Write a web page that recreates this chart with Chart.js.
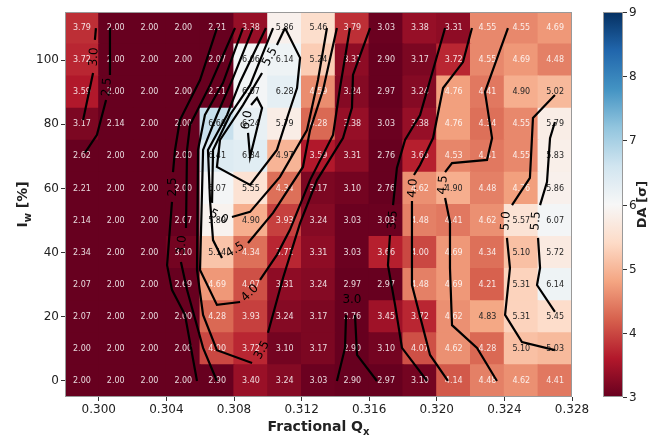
<!DOCTYPE html>
<html>
<head>
<meta charset="utf-8">
<script src="https://cdn.jsdelivr.net/npm/chart.js@4.4.0/dist/chart.umd.min.js"></script>
<style>
  body { margin: 0; background: #fff; }
  #wrap { width: 652px; height: 436px; }
</style>
</head>
<body>
<div id="wrap"><canvas id="daChart" width="652" height="436"></canvas></div>
<script>
// grid of the scan: fractional Qx (columns) and wire current Iw (rows, top first)
const qxCenters = [0.299, 0.301, 0.303, 0.305, 0.307, 0.309, 0.311, 0.313, 0.315, 0.317, 0.319, 0.321, 0.323, 0.325, 0.327];
const iwRows = [110, 100, 90, 80, 70, 60, 50, 40, 30, 20, 10, 0];

// DA in sigma, one row per Iw value
const da110 = [3.79, 2.00, 2.00, 2.00, 2.21, 3.38, 5.86, 5.46, 3.79, 3.03, 3.38, 3.31, 4.55, 4.55, 4.69];
const da100 = [3.72, 2.00, 2.00, 2.00, 2.07, 6.06, 6.14, 5.24, 3.31, 2.90, 3.17, 3.72, 4.55, 4.69, 4.48];
const da90  = [3.59, 2.00, 2.00, 2.00, 2.21, 6.07, 6.28, 4.59, 3.24, 2.97, 3.24, 4.76, 4.41, 4.90, 5.02];
const da80  = [3.17, 2.14, 2.00, 2.00, 6.69, 6.24, 5.79, 4.28, 3.38, 3.03, 3.38, 4.76, 4.34, 4.55, 5.79];
const da70  = [2.62, 2.00, 2.00, 2.00, 6.41, 6.34, 4.97, 3.59, 3.31, 2.76, 3.66, 4.53, 4.41, 4.55, 5.83];
const da60  = [2.21, 2.00, 2.00, 2.00, 6.07, 5.55, 4.34, 3.17, 3.10, 2.76, 4.62, 4.90, 4.48, 4.76, 5.86];
const da50  = [2.14, 2.00, 2.00, 2.07, 5.89, 4.90, 3.93, 3.24, 3.03, 3.03, 4.48, 4.41, 4.62, 5.57, 6.07];
const da40  = [2.34, 2.00, 2.00, 3.10, 5.14, 4.34, 3.72, 3.31, 3.03, 3.66, 4.00, 4.69, 4.34, 5.10, 5.72];
const da30  = [2.07, 2.00, 2.00, 2.69, 4.69, 4.07, 3.31, 3.24, 2.97, 2.97, 4.48, 4.69, 4.21, 5.31, 6.14];
const da20  = [2.07, 2.00, 2.00, 2.00, 4.28, 3.93, 3.24, 3.17, 2.76, 3.45, 3.72, 4.62, 4.83, 5.31, 5.45];
const da10  = [2.00, 2.00, 2.00, 2.00, 4.00, 3.72, 3.10, 3.17, 2.90, 3.10, 4.07, 4.62, 4.28, 5.10, 5.03];
const da0   = [2.00, 2.00, 2.00, 2.00, 2.90, 3.40, 3.24, 3.03, 2.90, 2.97, 3.10, 4.14, 4.48, 4.62, 4.41];
const daRows = [da110, da100, da90, da80, da70, da60, da50, da40, da30, da20, da10, da0];

const qxTicks = [0.300, 0.304, 0.308, 0.312, 0.316, 0.320, 0.324, 0.328];
const iwTicks = [0, 20, 40, 60, 80, 100];
const daTicks = [3, 4, 5, 6, 7, 8, 9];

// contour lines, [Qx, Iw] points, broken where the labels sit
const contourLines = [
  [[0.30066,110],[0.30066,95.4]],
  [[0.30043,87.6],[0.29989,76.7],[0.29918,71.1]],
  [[0.29983,110],[0.29977,106.3]],
  [[0.29966,96.0],[0.29907,81.3]],
  [[0.30699,110],[0.30599,93.8],[0.30480,81.3],[0.30451,72.0],[0.30439,65.1]],
  [[0.30433,55.8],[0.30404,36.1],[0.30433,28.4],[0.30510,20.6],[0.30581,0]],
  [[0.30806,110],[0.30658,92.2],[0.30540,79.8],[0.30522,72.0],[0.30516,47.7]],
  [[0.30486,37.1],[0.30522,28.4],[0.30617,10.3],[0.30699,0]],
  [[0.30853,110],[0.30735,92.9],[0.30628,82.9],[0.30587,72.0],[0.30581,34.6],[0.30617,20.6],[0.30699,9.6],[0.30907,5.6]],
  [[0.31001,15.0],[0.31090,32.1],[0.31191,49.2],[0.31291,62.6],[0.31445,75.7],[0.31498,85.1],[0.31504,95.4],[0.31605,110]],
  [[0.30912,110],[0.30794,94.4],[0.30699,82.9],[0.30617,72.0],[0.30599,34.6],[0.30699,23.7],[0.30836,24.6]],
  [[0.30954,31.5],[0.31054,39.3],[0.31131,47.1],[0.31250,62.6],[0.31386,76.7],[0.31427,91.3],[0.31486,110]],
  [[0.30989,110],[0.30836,93.2],[0.30759,82.9],[0.30646,72.0],[0.30658,56.4],[0.30676,43.9],[0.30729,38.3]],
  [[0.30883,43.0],[0.31031,52.4],[0.31208,66.7],[0.31250,78.2],[0.31327,90.7],[0.31409,110]],
  [[0.31031,110],[0.30895,92.2],[0.30776,82.9],[0.30676,72.0],[0.30670,55.5]],
  [[0.30788,51.1],[0.30895,52.7],[0.31072,63.6],[0.31232,78.2],[0.31297,93.8],[0.31350,110]],
  [[0.31102,110],[0.31054,104.7]],
  [[0.30966,96.0],[0.30853,86.0],[0.30717,75.1],[0.30699,66.7],[0.30895,61.1],[0.31054,72.0],[0.31120,82.9],[0.31173,91.3],[0.31191,100.7],[0.31102,110]],
  [[0.30883,77.3],[0.30895,69.8],[0.30930,77.3],[0.30966,85.1],[0.30936,88.2],[0.30901,86.0]],
  [[0.32049,110],[0.31901,82.9],[0.31812,75.1],[0.31764,66.4],[0.31741,54.8]],
  [[0.31723,45.5],[0.31711,36.1],[0.31753,23.7],[0.31794,10.3],[0.31942,0]],
  [[0.32208,110],[0.32155,99.4],[0.32037,91.3],[0.31978,75.7],[0.31901,67.3],[0.31865,64.2]],
  [[0.31853,56.1],[0.31853,29.9],[0.31960,8.1],[0.32066,0]],
  [[0.32421,110],[0.32285,90.1],[0.32327,75.7],[0.32297,68.9],[0.32090,67.9],[0.32049,65.1]],
  [[0.32049,57.0],[0.32078,49.5],[0.32078,35.2],[0.32090,17.4],[0.32238,10.3],[0.32356,0]],
  [[0.32699,89.1],[0.32569,82.0],[0.32563,75.7],[0.32551,63.3],[0.32445,54.8]],
  [[0.32415,44.6],[0.32433,35.2],[0.32404,20.6],[0.32504,12.1],[0.32699,9.6]],
  [[0.32699,80.7],[0.32670,75.7],[0.32652,62.0],[0.32611,54.8]],
  [[0.32599,44.6],[0.32611,35.2],[0.32593,29.9],[0.32699,21.5]],
  [[0.31409,0],[0.31457,10.3],[0.31463,20.6]],
  [[0.31516,20.6],[0.31528,8.1],[0.31646,0]]
];

// contour level labels: text, position in data units, angle in degrees
const contourLabels = [
  ['2.5', 0.30049, 91.6, -85], ['3.0', 0.29972, 101.0, -87],
  ['2.5', 0.30439, 60.5, -90], ['3.0', 0.30492, 42.4, -85],
  ['3.5', 0.30966, 9.6, -62], ['4.0', 0.30895, 27.4, -45],
  ['4.5', 0.30806, 40.8, -30], ['5.0', 0.30711, 51.1, 25],
  ['5.5', 0.31013, 101.0, -62], ['6.0', 0.30877, 81.3, -80],
  ['3.5', 0.31741, 50.2, -85], ['4.0', 0.31859, 60.1, -85],
  ['4.5', 0.32037, 61.1, -85], ['5.0', 0.32410, 49.9, -85],
  ['5.5', 0.32587, 49.9, -85], ['3.0', 0.31498, 25.2, 0]
];

const rdbu = ['#67001f','#b2182b','#d6604d','#f4a582','#fddbc7','#f7f7f7','#d1e5f0','#92c5de','#4393c3','#2166ac','#053061'];

function hexToRgb(h) {
  return [parseInt(h.slice(1,3),16), parseInt(h.slice(3,5),16), parseInt(h.slice(5,7),16)];
}

function daColor(v) {
  const t = Math.min(1, Math.max(0, (v - 3) / 6)) * 10;
  const i = Math.min(9, Math.floor(t));
  const f = t - i;
  const a = hexToRgb(rdbu[i]), b = hexToRgb(rdbu[i + 1]);
  const c = a.map((x, k) => Math.round(x + (b[k] - x) * f));
  return 'rgb(' + c.join(',') + ')';
}

const cells = [];
iwRows.forEach((iw, r) => {
  qxCenters.forEach((qx, c) => {
    cells.push({ x: qx, y: [iw - 5, iw + 5], v: daRows[r][c] });
  });
});

const datasets = [{
  type: 'bar',
  data: cells,
  backgroundColor: ctx => daColor(ctx.raw.v),
  borderWidth: 0,
  inflateAmount: 0.6,
  barPercentage: 1,
  categoryPercentage: 1,
  grouped: false,
  order: 10
}];
contourLines.forEach(seg => {
  datasets.push({
    type: 'line',
    data: seg.map(p => ({ x: p[0], y: p[1] })),
    borderColor: '#000',
    borderWidth: 2.2,
    pointRadius: 0,
    fill: false,
    tension: 0,
    order: 1
  });
});

function drawSubText(ctx, main, sub, rest, size) {
  ctx.font = 'bold ' + size + 'px "DejaVu Sans"';
  const w1 = ctx.measureText(main).width;
  const w3 = ctx.measureText(rest).width;
  ctx.font = 'bold ' + Math.round(size * 0.7) + 'px "DejaVu Sans"';
  const w2 = ctx.measureText(sub).width;
  let x = -(w1 + w2 + w3) / 2;
  ctx.textAlign = 'left';
  ctx.textBaseline = 'alphabetic';
  ctx.font = 'bold ' + size + 'px "DejaVu Sans"';
  ctx.fillText(main, x, 0);
  x += w1;
  ctx.font = 'bold ' + Math.round(size * 0.7) + 'px "DejaVu Sans"';
  ctx.fillText(sub, x, size * 0.3);
  x += w2;
  ctx.font = 'bold ' + size + 'px "DejaVu Sans"';
  ctx.fillText(rest, x, 0);
}

const extras = {
  id: 'extras',
  afterDatasetDraw(chart, args) {
    if (args.index !== 0) return;
    const ctx = chart.ctx;
    ctx.save();
    ctx.font = '8px "DejaVu Sans"';
    ctx.textAlign = 'center';
    ctx.textBaseline = 'middle';
    chart.getDatasetMeta(0).data.forEach((el, i) => {
      const v = cells[i].v;
      ctx.fillStyle = v > 4.8 ? '#262626' : 'rgba(255,255,255,0.85)';
      ctx.fillText(v.toFixed(2), el.x, (el.y + el.base) / 2);
    });
    ctx.restore();
  },
  afterDatasetsDraw(chart) {
    const ctx = chart.ctx;
    const xs = chart.scales.x, ys = chart.scales.y;
    ctx.save();
    ctx.fillStyle = '#000';
    ctx.font = '12px "DejaVu Sans"';
    ctx.textAlign = 'center';
    ctx.textBaseline = 'middle';
    contourLabels.forEach(([t, qx, iw, ang]) => {
      ctx.save();
      ctx.translate(xs.getPixelForValue(qx), ys.getPixelForValue(iw));
      ctx.rotate(ang * Math.PI / 180);
      ctx.fillText(t, 0, 0);
      ctx.restore();
    });
    ctx.restore();
  },
  afterDraw(chart) {
    const ctx = chart.ctx;
    const a = chart.chartArea;
    const cb = chart.scales.cb;
    ctx.save();
    // frame
    ctx.strokeStyle = '#999';
    ctx.lineWidth = 1;
    ctx.strokeRect(a.left + 0.5, a.top + 0.5, a.right - a.left - 1, a.bottom - a.top - 1);
    // colorbar
    const x0 = cb.left + 31, bw = 20;
    const g = ctx.createLinearGradient(0, cb.getPixelForValue(3), 0, cb.getPixelForValue(9));
    rdbu.forEach((c, i) => g.addColorStop(i / 10, c));
    ctx.fillStyle = g;
    ctx.fillRect(x0, cb.top, bw, cb.bottom - cb.top);
    ctx.strokeStyle = '#999';
    ctx.strokeRect(x0 + 0.5, cb.top + 0.5, bw - 1, cb.bottom - cb.top - 1);
    ctx.strokeStyle = '#333';
    ctx.fillStyle = '#222';
    ctx.font = '12px "DejaVu Sans"';
    ctx.textAlign = 'left';
    ctx.textBaseline = 'middle';
    daTicks.forEach(v => {
      const y = Math.round(cb.getPixelForValue(v)) + 0.5;
      ctx.beginPath();
      ctx.moveTo(x0 + bw, y);
      ctx.lineTo(x0 + bw + 4, y);
      ctx.stroke();
      ctx.fillText(String(v), x0 + bw + 6, y);
    });
    // titles
    ctx.fillStyle = '#222';
    ctx.save();
    ctx.translate((a.left + a.right) / 2, 431);
    drawSubText(ctx, 'Fractional Q', 'x', '', 14);
    ctx.restore();
    ctx.save();
    ctx.translate(27, (a.top + a.bottom) / 2);
    ctx.rotate(-Math.PI / 2);
    drawSubText(ctx, 'I', 'w', ' [%]', 14);
    ctx.restore();
    ctx.save();
    ctx.translate(646, (a.top + a.bottom) / 2);
    ctx.rotate(-Math.PI / 2);
    drawSubText(ctx, 'DA [σ]', '', '', 13);
    ctx.restore();
    ctx.restore();
  }
};

Chart.defaults.font.family = '"DejaVu Sans", sans-serif';
Chart.defaults.color = '#222';

new Chart(document.getElementById('daChart'), {
  type: 'bar',
  data: { datasets },
  options: {
    responsive: false,
    devicePixelRatio: 1,
    animation: false,
    layout: { padding: { top: 12, left: 0, right: 0, bottom: 0 } },
    plugins: { legend: { display: false }, tooltip: { enabled: false } },
    scales: {
      x: {
        type: 'linear',
        min: 0.298,
        max: 0.328,
        offset: false,
        afterBuildTicks: s => { s.ticks = qxTicks.map(v => ({ value: v })); },
        afterFit: s => { s.height = 39; },
        ticks: { callback: v => v.toFixed(3), font: { size: 12 }, color: '#222', padding: 2, maxRotation: 0, autoSkip: false },
        grid: { drawOnChartArea: false, drawTicks: true, tickLength: 4, color: '#333', offset: false },
        border: { display: false }
      },
      y: {
        type: 'linear',
        min: -5,
        max: 115,
        afterBuildTicks: s => { s.ticks = iwTicks.map(v => ({ value: v })); },
        afterFit: s => { s.width = 65; },
        ticks: { font: { size: 12 }, color: '#222', padding: 2 },
        grid: { drawOnChartArea: false, drawTicks: true, tickLength: 4, color: '#333' },
        border: { display: false }
      },
      cb: {
        type: 'linear',
        position: 'right',
        min: 3,
        max: 9,
        afterFit: s => { s.width = 80; },
        ticks: { display: false },
        grid: { display: false, drawTicks: false },
        border: { display: false }
      }
    }
  },
  plugins: [extras]
});
</script>
</body>
</html>
